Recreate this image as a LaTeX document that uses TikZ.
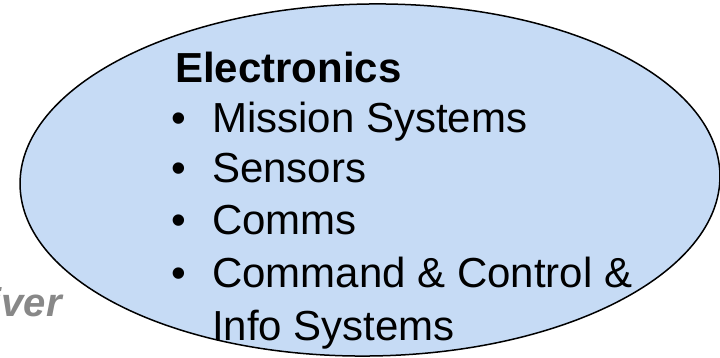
\documentclass[tikz,border=0pt]{standalone}
\usepackage{fontspec}
\setmainfont{Liberation Sans}
\usepackage{tikz}
\usetikzlibrary{shapes.geometric, positioning}

\definecolor{cloudblue}{RGB}{198,219,245}
\definecolor{fadegray}{RGB}{136,136,136}

\begin{document}
\begin{tikzpicture}[x=1pt, y=1pt]
\tikzstyle{area}=[ellipse, draw=black, line width=1.5pt, fill=cloudblue, minimum width=700pt, minimum height=352pt, inner sep=0pt, rotate=0.8]
\tikzstyle{head}=[anchor=base west, inner sep=0pt, font=\fontsize{42}{50}\selectfont\bfseries]
\tikzstyle{item}=[anchor=base west, inner sep=0pt, font=\fontsize{42}{50}\selectfont]
\tikzstyle{bul}=[anchor=base west, inner sep=0pt, font=\fontsize{42}{50}\selectfont]
\tikzstyle{side}=[anchor=base east, inner sep=0pt, text=fadegray, font=\fontsize{40}{48}\selectfont\bfseries\itshape]
\useasboundingbox (0,0) rectangle (720,358);
\node[area] (elec) at (370,178) {};
\node[side] (drv) at (62,41) {iver};
\node[head] (title) at (175,275) {Electronics};
\foreach \y/\nm/\txt in {225/ms/Mission Systems, 175/sn/Sensors, 123/cm/Comms, 70/cc/{Command \& Control \&}}{
  \node[bul] (b\nm) at (171,\y) {\textbullet};
  \node[item] (t\nm) at (212,\y) {\txt};
}
\node[item] (tinfo) at (212,17) {Info Systems};
\end{tikzpicture}
\end{document}
